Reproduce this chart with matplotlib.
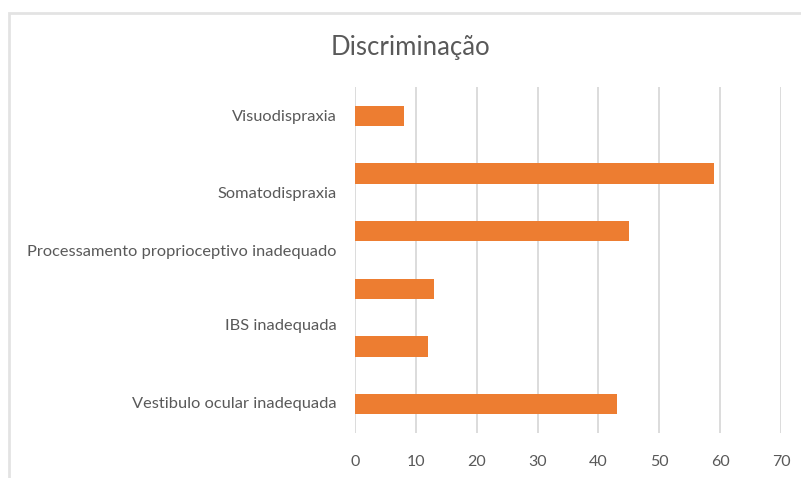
import matplotlib.pyplot as plt
from matplotlib.patches import Rectangle

# Data (top to bottom)
values = [8, 59, 45, 13, 12, 43]
bar_pos = [0, 1, 2, 3, 4, 5]

# The category labels sit at odd offsets in the original
label_texts = [
    "Visuodispraxia",
    "Somatodispraxia",
    "Processamento proprioceptivo inadequado",
    "IBS inadequada",
    "Vestibulo ocular inadequada",
]
label_pos = [0, 1.33, 2.33, 3.62, 4.97]

x_ticks = [0, 10, 20, 30, 40, 50, 60, 70]

bar_color = "#ED7D31"
text_color = "#595959"
grid_color = "#D9D9D9"

plt.rcParams["font.family"] = ["Lato", "DejaVu Sans"]

W, H = 801, 478
fig = plt.figure(figsize=(W / 100, H / 100), dpi=100)
ax = fig.add_axes([355 / W, 1 - 433 / H, (781 - 355) / W, (433 - 87) / H])

ax.barh(bar_pos, values, height=0.35, color=bar_color, zorder=3)

ax.set_xlim(0, 70)
ax.set_ylim(5.5, -0.5)
ax.set_xticks(x_ticks)
ax.set_yticks(label_pos, label_texts)

ax.grid(axis="x", color=grid_color, linewidth=1.3, zorder=0)
for s in ax.spines.values():
    s.set_visible(False)
ax.tick_params(axis="both", length=0, colors=text_color)
ax.tick_params(axis="x", pad=16, labelsize=11.5)
ax.tick_params(axis="y", pad=13, labelsize=11.8)

fig.text(410 / W, 1 - 47 / H, "Discriminação", ha="center", va="center",
         fontsize=18.5, color=text_color)

# light chart frame (cut off at the right and bottom)
fig.patches.append(Rectangle((9 / W, -0.05), 1.1, 1 - 13 / H + 0.05,
                             transform=fig.transFigure, fill=False,
                             edgecolor="#E3E3E3", linewidth=2))

fig.savefig("out.png", dpi=100)
